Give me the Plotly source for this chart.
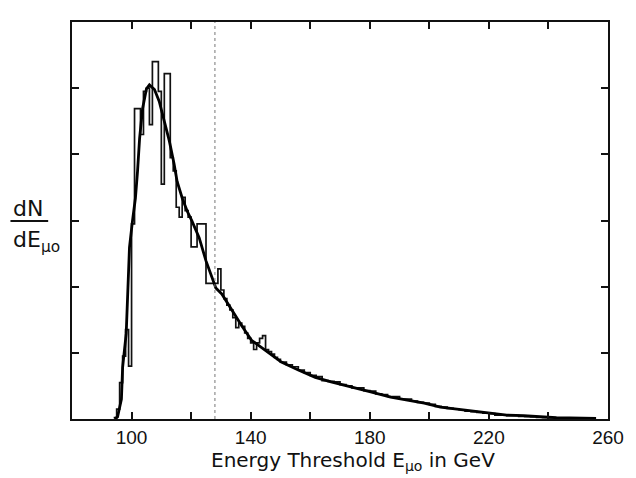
import plotly.graph_objects as go

# Smooth (calculated) curve: energy threshold (GeV) vs dN/dE (arb. units)
curve_x = [94.3, 95.3, 96.6, 97.0, 98.2, 98.7, 99.3, 100.3, 101.3, 102.0, 102.7, 103.7,
           105.0, 106.0, 107.7, 109.3, 111.0, 112.7, 114.3, 115.3, 117.0, 118.7, 120.3,
           122.7, 125.0, 127.0, 128.3, 130.3, 133.7, 137.0, 140.3, 145.0, 150.3, 156.0,
           161.7, 167.0, 172.7, 180.3, 187.0, 192.7, 198.3, 203.7, 209.3, 215.0, 220.3,
           226.0, 231.7, 242.7, 256.0]
curve_y = [0.0, 0.03, 0.30, 0.78, 1.29, 1.79, 2.59, 2.99, 3.34, 3.74, 4.24, 4.69,
           4.99, 5.05, 4.98, 4.80, 4.50, 4.20, 3.85, 3.59, 3.34, 3.14, 2.99,
           2.74, 2.39, 2.14, 1.98, 1.89, 1.64, 1.41, 1.19, 1.04, 0.86, 0.74,
           0.63, 0.56, 0.50, 0.41, 0.33, 0.29, 0.24, 0.18, 0.15, 0.11, 0.09,
           0.06, 0.05, 0.02, 0.01]

# Histogram (Monte Carlo): left bin edges and contents
hist_edges = list(range(94, 150)) + list(range(150, 246, 2)) + [246]
hist_vals = [0.02, 0.15, 0.55, 0.95, 1.35, 0.80, 2.95, 4.69, 4.69, 4.30,
             4.95, 5.00, 4.45, 5.40, 5.40, 4.95, 3.55, 5.22, 5.22, 3.95,
             3.75, 3.20, 3.05, 3.35, 3.15, 3.05, 2.60, 2.60, 2.95, 2.95,
             2.95, 2.05, 2.05, 2.05, 2.05, 2.27, 1.95, 1.82, 1.72, 1.65,
             1.53, 1.38, 1.45, 1.40, 1.30, 1.22, 1.15, 1.05, 1.15, 1.22,
             1.26, 1.05, 1.02, 0.98, 0.93, 0.90,
             0.86, 0.82, 0.79, 0.74, 0.70, 0.66, 0.64, 0.58, 0.57, 0.56,
             0.52, 0.50, 0.47, 0.47, 0.43, 0.42, 0.38, 0.37, 0.34, 0.34,
             0.30, 0.30, 0.27, 0.25, 0.24, 0.22, 0.19, 0.18, 0.16, 0.15,
             0.14, 0.12, 0.11, 0.10, 0.09, 0.08, 0.06, 0.06, 0.05, 0.05,
             0.04, 0.035, 0.03, 0.025, 0.02, 0.015, 0.01, 0.01]

x_ticks = [100, 140, 180, 220, 260]
x_ticktext = ["100", "140", "180", "220", "260"]
x_minor_ticks = [120, 160, 200, 240]
y_ticks = [1, 2, 3, 4, 5]
threshold = 128

hx = hist_edges
hy = hist_vals + [hist_vals[-1]]

fig = go.Figure()
fig.add_trace(go.Scatter(x=hx, y=hy, mode="lines", line=dict(shape="hv", color="#111", width=1.7),
                         showlegend=False, hoverinfo="skip"))
fig.add_trace(go.Scatter(x=curve_x, y=curve_y, mode="lines", line=dict(color="#000", width=2.8),
                         showlegend=False, hoverinfo="skip"))
fig.add_trace(go.Scatter(x=[threshold, threshold], y=[0, 6], mode="lines",
                         line=dict(color="#777", width=1, dash="dot"), showlegend=False, hoverinfo="skip"))

# page body has an 8px margin; plot area targeted at x 72-612, y 20-419 in the window
L, T, PW, PH = 64, 12, 540, 399
fig.update_layout(
    width=628, height=470,
    margin=dict(l=L, r=628 - L - PW, t=T, b=470 - T - PH),
    paper_bgcolor="white", plot_bgcolor="white",
    font=dict(family="Liberation Sans, Arial, sans-serif", color="#111", size=19),
    xaxis=dict(range=[80, 260], tickvals=x_ticks, ticktext=x_ticktext, ticks="inside",
               ticklen=7, tickwidth=2, tickcolor="#111", showline=True, linecolor="#111",
               linewidth=2, mirror="ticks", showgrid=False, zeroline=False,
               tickfont=dict(size=19),
               minor=dict(tickvals=x_minor_ticks, ticks="inside", ticklen=7,
                          tickwidth=2, tickcolor="#111", showgrid=False)),
    yaxis=dict(range=[0, 6], tickvals=y_ticks, showticklabels=False, ticks="inside",
               ticklen=7, tickwidth=2, tickcolor="#111", showline=True, linecolor="#111",
               linewidth=2, mirror="ticks", showgrid=False, zeroline=False),
)

def px2paper(px, py):
    return (px - 72) / PW, (419 - py) / PH

ax, ay = px2paper(355, 461)
fig.add_annotation(x=ax, y=ay, xref="paper", yref="paper",
                   text="Energy Threshold E<sub>μo</sub> in GeV", showarrow=False,
                   font=dict(size=20, family="DejaVu Sans"), xanchor="center", yanchor="middle")
ax, ay = px2paper(28, 207)
fig.add_annotation(x=ax, y=ay, xref="paper", yref="paper",
                   text="dN", showarrow=False, font=dict(size=22, family="DejaVu Sans"),
                   xanchor="center", yanchor="middle")
ax, ay = px2paper(36, 241)
fig.add_annotation(x=ax, y=ay, xref="paper", yref="paper",
                   text="dE<sub>μo</sub>", showarrow=False, font=dict(size=22, family="DejaVu Sans"),
                   xanchor="center", yanchor="middle")
x0, y0 = px2paper(10, 220)
x1, _ = px2paper(48, 220)
fig.add_shape(type="line", xref="paper", yref="paper", x0=x0, x1=x1, y0=y0, y1=y0,
              line=dict(color="#111", width=2))

fig.write_html("out.html")
